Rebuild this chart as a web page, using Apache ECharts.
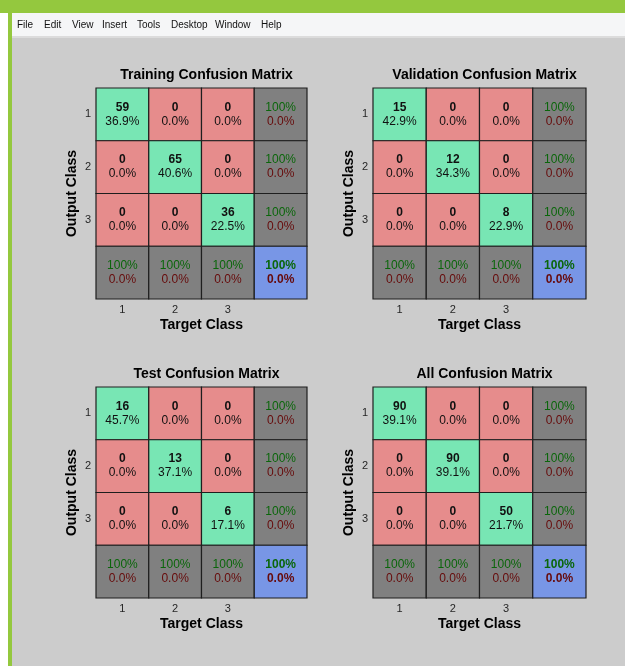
<!DOCTYPE html>
<html>
<head>
<meta charset="utf-8">
<script src="https://cdn.jsdelivr.net/npm/echarts@6/dist/echarts.min.js"></script>
<style>html,body{margin:0;padding:0;background:#cccccc;}#chart{width:625px;height:666px;}</style>
</head>
<body>
<div id="chart"></div>
<script>
// ---- data ----
const classLabels = ['1', '2', '3'];
const matrixTitles = ['Training Confusion Matrix', 'Validation Confusion Matrix', 'Test Confusion Matrix', 'All Confusion Matrix'];
const menuItems = ['File', 'Edit', 'View', 'Insert', 'Tools', 'Desktop', 'Window', 'Help'];

const trainingCounts = [[59, 0, 0], [0, 65, 0], [0, 0, 36]];
const trainingPercents = [['36.9%', '0.0%', '0.0%'], ['0.0%', '40.6%', '0.0%'], ['0.0%', '0.0%', '22.5%']];
const validationCounts = [[15, 0, 0], [0, 12, 0], [0, 0, 8]];
const validationPercents = [['42.9%', '0.0%', '0.0%'], ['0.0%', '34.3%', '0.0%'], ['0.0%', '0.0%', '22.9%']];
const testCounts = [[16, 0, 0], [0, 13, 0], [0, 0, 6]];
const testPercents = [['45.7%', '0.0%', '0.0%'], ['0.0%', '37.1%', '0.0%'], ['0.0%', '0.0%', '17.1%']];
const allCounts = [[90, 0, 0], [0, 90, 0], [0, 0, 50]];
const allPercents = [['39.1%', '0.0%', '0.0%'], ['0.0%', '39.1%', '0.0%'], ['0.0%', '0.0%', '21.7%']];

// row (output class) and column (target class) summaries, identical for all four matrices
const rowCorrect = ['100%', '100%', '100%'];
const rowWrong = ['0.0%', '0.0%', '0.0%'];
const colCorrect = ['100%', '100%', '100%'];
const colWrong = ['0.0%', '0.0%', '0.0%'];
const overallCorrect = '100%';
const overallWrong = '0.0%';

const matrices = [
  { counts: trainingCounts, pcts: trainingPercents },
  { counts: validationCounts, pcts: validationPercents },
  { counts: testCounts, pcts: testPercents },
  { counts: allCounts, pcts: allPercents }
];

// ---- layout / style ----
const FONT = '"Liberation Sans", Arial, Helvetica, sans-serif';
const grids = [
  { left: 96, top: 88, width: 211, height: 211 },
  { left: 373, top: 88, width: 213, height: 211 },
  { left: 96, top: 387, width: 211, height: 211 },
  { left: 373, top: 387, width: 213, height: 211 }
];
const COL = {
  diag: '#78e6b4', off: '#e68c8c', sum: '#808080', total: '#7896e6',
  greenText: '#0a660a', redText: '#660a0a'
};

function buildCells(m) {
  const cells = [];
  for (let r = 0; r < 3; r++) {
    for (let c = 0; c < 3; c++) {
      cells.push({ value: [c, r], kind: r === c ? 'diag' : 'off', top: String(m.counts[r][c]), bottom: m.pcts[r][c] });
    }
    cells.push({ value: [3, r], kind: 'sum', top: rowCorrect[r], bottom: rowWrong[r] });
  }
  for (let c = 0; c < 3; c++) {
    cells.push({ value: [c, 3], kind: 'sum', top: colCorrect[c], bottom: colWrong[c] });
  }
  cells.push({ value: [3, 3], kind: 'total', top: overallCorrect, bottom: overallWrong });
  return cells;
}

function makeRender(cells) {
  return function (params, api) {
    const cell = cells[params.dataIndex];
    const p = api.coord([api.value(0), api.value(1)]);
    const s = api.size([1, 1]);
    const x = p[0] - s[0] / 2, y = p[1] - s[1] / 2;
    const isSummary = cell.kind === 'sum' || cell.kind === 'total';
    const isTotal = cell.kind === 'total';
    return {
      type: 'group',
      children: [
        { type: 'rect', shape: { x: x, y: y, width: s[0], height: s[1] },
          style: { fill: COL[cell.kind], stroke: '#1e1e1e', lineWidth: 1.2 } },
        { type: 'text', x: p[0], y: p[1] - 7,
          style: { text: cell.top, textAlign: 'center', textVerticalAlign: 'middle',
                   font: ((isSummary && !isTotal) ? 'normal' : 'bold') + ' 12px ' + FONT,
                   fill: isSummary ? COL.greenText : '#111' } },
        { type: 'text', x: p[0], y: p[1] + 7,
          style: { text: cell.bottom, textAlign: 'center', textVerticalAlign: 'middle',
                   font: (isTotal ? 'bold' : 'normal') + ' 12px ' + FONT,
                   fill: isSummary ? COL.redText : '#111' } }
      ]
    };
  };
}

const axisCats = classLabels.concat(['']);
const option = {
  backgroundColor: '#cccccc',
  animation: false,
  title: grids.map((g, i) => ({
    text: matrixTitles[i], left: g.left + g.width / 2, top: g.top - 25, textAlign: 'center',
    textStyle: { fontFamily: FONT, fontWeight: 'bold', fontSize: 14, color: '#000' }
  })),
  grid: grids.map(g => ({ left: g.left, top: g.top, width: g.width, height: g.height })),
  xAxis: grids.map((g, i) => ({
    type: 'category', gridIndex: i, data: axisCats,
    axisLine: { show: false }, axisTick: { show: false }, splitLine: { show: false },
    axisLabel: { color: '#262626', fontSize: 11, fontFamily: FONT, margin: 5 },
    name: 'Target Class', nameLocation: 'middle', nameGap: 19,
    nameTextStyle: { fontFamily: FONT, fontWeight: 'bold', fontSize: 14, color: '#000' }
  })),
  yAxis: grids.map((g, i) => ({
    type: 'category', gridIndex: i, data: axisCats, inverse: true,
    axisLine: { show: false }, axisTick: { show: false }, splitLine: { show: false },
    axisLabel: { color: '#262626', fontSize: 11, fontFamily: FONT, margin: 5 },
    name: 'Output Class', nameLocation: 'middle', nameGap: 17,
    nameTextStyle: { fontFamily: FONT, fontWeight: 'bold', fontSize: 14, color: '#000' }
  })),
  series: matrices.map((m, i) => {
    const cells = buildCells(m);
    return {
      type: 'custom', xAxisIndex: i, yAxisIndex: i,
      data: cells.map(c => c.value),
      encode: { x: 0, y: 1 },
      renderItem: makeRender(cells)
    };
  }),
  graphic: [
    // window frame decoration
    { type: 'rect', shape: { x: 0, y: 0, width: 625, height: 13 }, style: { fill: '#94c83e' }, silent: true },
    { type: 'rect', shape: { x: 0, y: 13, width: 8, height: 653 }, style: { fill: '#ffffff' }, silent: true },
    { type: 'rect', shape: { x: 8, y: 13, width: 4, height: 653 }, style: { fill: '#94c83e' }, silent: true },
    { type: 'rect', shape: { x: 12, y: 13, width: 613, height: 23 }, style: { fill: '#f5f6f7' }, silent: true },
    { type: 'rect', shape: { x: 12, y: 36, width: 613, height: 2 }, style: { fill: '#dcdcdc' }, silent: true }
  ].concat(menuItems.map((t, k) => ({
    type: 'text', left: [17, 44, 72, 102, 137, 171, 215, 261][k], top: 20,
    style: { text: t, font: 'normal 10px ' + FONT, fill: '#111' }, silent: true
  })))
};

const chart = echarts.init(document.getElementById('chart'), null, { renderer: 'canvas' });
chart.setOption(option);
</script>
</body>
</html>
